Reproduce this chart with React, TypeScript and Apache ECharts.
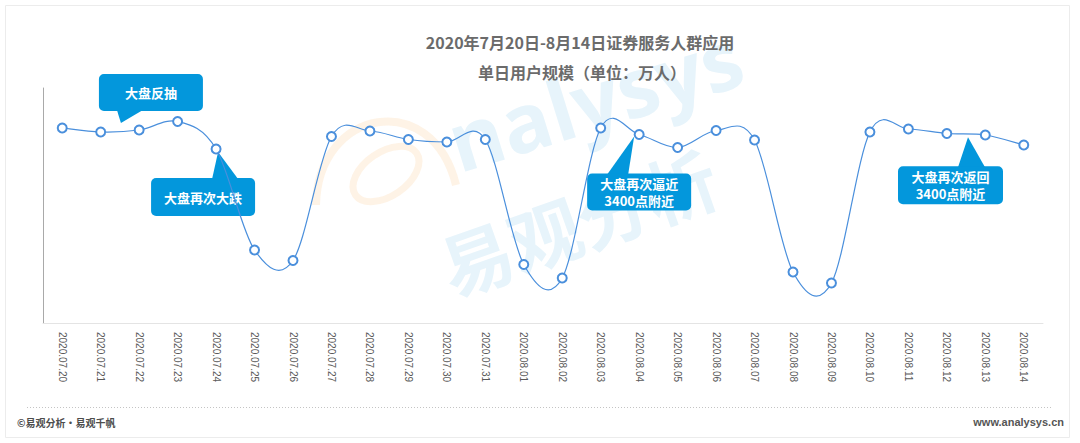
import React, { useEffect, useRef } from "react";
import * as echarts from "echarts";

const categories = [
  "2020.07.20", "2020.07.21", "2020.07.22", "2020.07.23", "2020.07.24", "2020.07.25",
  "2020.07.26", "2020.07.27", "2020.07.28", "2020.07.29", "2020.07.30", "2020.07.31",
  "2020.08.01", "2020.08.02", "2020.08.03", "2020.08.04", "2020.08.05", "2020.08.06",
  "2020.08.07", "2020.08.08", "2020.08.09", "2020.08.10", "2020.08.11", "2020.08.12",
  "2020.08.13", "2020.08.14",
];

// 单日用户规模（万人）
const users = [
  3900, 3820, 3860, 4030, 3480, 1460, 1250, 3730, 3840, 3670, 3620, 3670, 1170,
  900, 3900, 3770, 3510, 3850, 3660, 1020, 800, 3820, 3880, 3790, 3760, 3560,
];

const titleLines = ["2020年7月20日-8月14日证券服务人群应用", "单日用户规模（单位：万人）"];
const calloutTexts = [
  ["大盘反抽"],
  ["大盘再次大跌"],
  ["大盘再次逼近", "3400点附近"],
  ["大盘再次返回", "3400点附近"],
];
// category index (fractional = between two points) each callout points at
const calloutAnchors = [1.5, 4, 15, 23.55];
const footerLeft = "©易观分析·易观千帆";
const footerRight = "www.analysys.cn";

// layout of the callout boxes relative to their pointer tip
const calloutLayout = [
  { tip: [1, -8], box: [-22, -49, 104, 37], base: [-4, 22], up: true },
  { tip: [2, 3], box: [-67, 26, 104, 38], base: [-6, 20], up: false },
  { tip: [-5, 2], box: [-47, 37, 104, 37], base: [-27, -6], up: false },
  { tip: [0, 3], box: [-70, 29, 105, 38], base: [-10, 17], up: false },
];

const CJK = '"Noto Sans CJK SC", "Noto Sans", sans-serif';
const CALLOUT_BLUE = "#0397dc";
const LINE_BLUE = "#4a8fdc";
const TENSION = 1 / 6;

function staticGraphics(): any[] {
  const wmBlue = "#e7f4fb";
  const wmOrange = "rgba(252, 196, 130, 0.2)";
  return [
    {
      id: "frame",
      type: "rect",
      z: -10,
      shape: { x: 5.5, y: 5.5, width: 1064, height: 432 },
      style: { fill: "none", stroke: "#ececec", lineWidth: 1 },
      silent: true,
    },
    {
      id: "wm-swirl-outer",
      type: "bezierCurve",
      z: -5,
      shape: { x1: 316, y1: 205, cpx1: 318, cpy1: 108, cpx2: 432, cpy2: 88, x2: 456, y2: 185 },
      style: { fill: "none", stroke: wmOrange, lineWidth: 8 },
      silent: true,
    },
    {
      id: "wm-swirl-inner",
      type: "ellipse",
      z: -5,
      x: 386,
      y: 174,
      rotation: 0.6,
      shape: { cx: 0, cy: 0, rx: 37, ry: 22 },
      style: { fill: "none", stroke: wmOrange, lineWidth: 7 },
      silent: true,
    },
    {
      id: "wm-en",
      type: "text",
      z: -5,
      x: 462,
      y: 182,
      rotation: 0.3,
      style: {
        text: "nalysys",
        fill: wmBlue,
        font: 'bold 82px "Open Sans", "DejaVu Sans", sans-serif',
        textAlign: "left",
        textVerticalAlign: "bottom",
      },
      silent: true,
    },
    {
      id: "wm-cn",
      type: "text",
      z: -5,
      x: 442,
      y: 268,
      rotation: 0.34,
      style: {
        text: "易观分析",
        fill: wmBlue,
        font: `bold 72px ${CJK}`,
        textAlign: "left",
        textVerticalAlign: "middle",
      },
      silent: true,
    },
    {
      id: "title1",
      type: "text",
      x: 580,
      y: 42,
      style: {
        text: titleLines[0],
        fill: "#6b6b6b",
        font: `bold 16px ${CJK}`,
        textAlign: "center",
        textVerticalAlign: "middle",
      },
    },
    {
      id: "title2",
      type: "text",
      x: 582,
      y: 72,
      style: {
        text: titleLines[1],
        fill: "#6b6b6b",
        font: `bold 16px ${CJK}`,
        textAlign: "center",
        textVerticalAlign: "middle",
      },
    },
    {
      id: "footer-line",
      type: "line",
      shape: { x1: 27, y1: 407.5, x2: 1053, y2: 407.5 },
      style: { stroke: "#c4c4c4", lineWidth: 1, lineDash: [1, 2] },
      silent: true,
    },
    {
      id: "footer-left",
      type: "text",
      x: 17,
      y: 422,
      style: {
        text: footerLeft,
        fill: "#4d4d4d",
        font: `bold 10px ${CJK}`,
        textAlign: "left",
        textVerticalAlign: "middle",
      },
    },
    {
      id: "footer-right",
      type: "text",
      x: 1064,
      y: 422,
      style: {
        text: footerRight,
        fill: "#555",
        font: 'bold 11px "Liberation Sans", Arial, sans-serif',
        textAlign: "right",
        textVerticalAlign: "middle",
      },
    },
  ];
}

function calloutGraphics(chart: echarts.ECharts): any[] {
  const out: any[] = [];
  calloutAnchors.forEach((a, i) => {
    const i0 = Math.floor(a);
    const i1 = Math.min(Math.ceil(a), users.length - 1);
    const f = a - i0;
    const p0 = chart.convertToPixel({ xAxisIndex: 0, yAxisIndex: 0 }, [i0, users[i0]]) as number[];
    const p1 = chart.convertToPixel({ xAxisIndex: 0, yAxisIndex: 0 }, [i1, users[i1]]) as number[];
    const ax = p0[0] + (p1[0] - p0[0]) * f;
    const ay = p0[1] + (p1[1] - p0[1]) * f;
    const L = calloutLayout[i];
    const tx = ax + L.tip[0];
    const ty = ay + L.tip[1];
    const bx = tx + L.box[0];
    const by = ty + L.box[1];
    const bw = L.box[2];
    const bh = L.box[3];
    const edgeY = L.up ? by + bh - 1 : by + 1;
    const lines = calloutTexts[i];
    const gap = 17;
    const texts = lines.map((t, k) => ({
      type: "text",
      x: bx + bw / 2,
      y: by + bh / 2 + (k - (lines.length - 1) / 2) * gap,
      style: {
        text: t,
        fill: "#fff",
        font: `bold 13px ${CJK}`,
        textAlign: "center",
        textVerticalAlign: "middle",
      },
    }));
    out.push({
      id: `callout-${i}`,
      type: "group",
      z: 100,
      children: [
        {
          type: "polygon",
          shape: { points: [[tx + L.base[0], edgeY], [tx + L.base[1], edgeY], [tx, ty]] },
          style: { fill: CALLOUT_BLUE },
        },
        {
          type: "rect",
          shape: { x: bx, y: by, width: bw, height: bh, r: 5 },
          style: { fill: CALLOUT_BLUE },
        },
        ...texts,
      ],
    });
  });
  return out;
}

// smooth curve segment i -> i+1 (Catmull-Rom through the data points, via the axes' scales)
function renderSegment(params: any, api: any) {
  const i = params.dataIndex;
  const n = users.length;
  if (i >= n - 1) return null;
  const pt = (k: number) => {
    const kk = Math.max(0, Math.min(n - 1, k));
    return api.coord([kk, users[kk]]);
  };
  const pPrev = pt(i - 1);
  const p0 = pt(i);
  const p1 = pt(i + 1);
  const pNext = pt(i + 2);
  return {
    type: "bezierCurve",
    shape: {
      x1: p0[0],
      y1: p0[1],
      cpx1: p0[0] + (p1[0] - pPrev[0]) * TENSION,
      cpy1: p0[1] + (p1[1] - pPrev[1]) * TENSION,
      cpx2: p1[0] - (pNext[0] - p0[0]) * TENSION,
      cpy2: p1[1] - (pNext[1] - p0[1]) * TENSION,
      x2: p1[0],
      y2: p1[1],
    },
    style: { fill: "none", stroke: LINE_BLUE, lineWidth: 1.2 },
    silent: true,
  };
}

export default function App() {
  const ref = useRef<HTMLDivElement>(null);

  useEffect(() => {
    if (!ref.current) return;
    const chart = echarts.init(ref.current, undefined, { renderer: "svg" });
    const option: any = {
      animation: false,
      backgroundColor: "#ffffff",
      grid: { left: 43, right: 37, top: 88, bottom: 120 },
      xAxis: {
        type: "category",
        data: categories,
        boundaryGap: true,
        axisLine: { show: true, lineStyle: { color: "#e4e4e4", width: 1 } },
        axisTick: { show: false },
        axisLabel: {
          interval: 0,
          rotate: -90,
          margin: 9,
          color: "#595959",
          fontSize: 10,
          fontFamily: '"Liberation Sans", Arial, sans-serif',
        },
      },
      yAxis: {
        type: "value",
        min: 0,
        max: 4700,
        axisLine: { show: true, lineStyle: { color: "#a9a9a9", width: 1 } },
        axisTick: { show: false },
        axisLabel: { show: false },
        splitLine: { show: false },
      },
      series: [
        {
          type: "custom",
          coordinateSystem: "cartesian2d",
          data: users.map((v, i) => [i, v]),
          renderItem: renderSegment,
          z: 3,
          silent: true,
        },
        {
          type: "line",
          data: users,
          symbol: "emptyCircle",
          symbolSize: 9,
          z: 5,
          lineStyle: { width: 0, opacity: 0 },
          itemStyle: { color: LINE_BLUE, borderColor: LINE_BLUE, borderWidth: 1.5 },
        },
      ],
      graphic: { elements: staticGraphics() },
    };
    chart.setOption(option);
    chart.setOption({ graphic: { elements: [...staticGraphics(), ...calloutGraphics(chart)] } });
    return () => chart.dispose();
  }, []);

  return (
    <div
      ref={ref}
      style={{ position: "absolute", left: 0, top: 0, width: 1080, height: 443, background: "#fff" }}
    />
  );
}
